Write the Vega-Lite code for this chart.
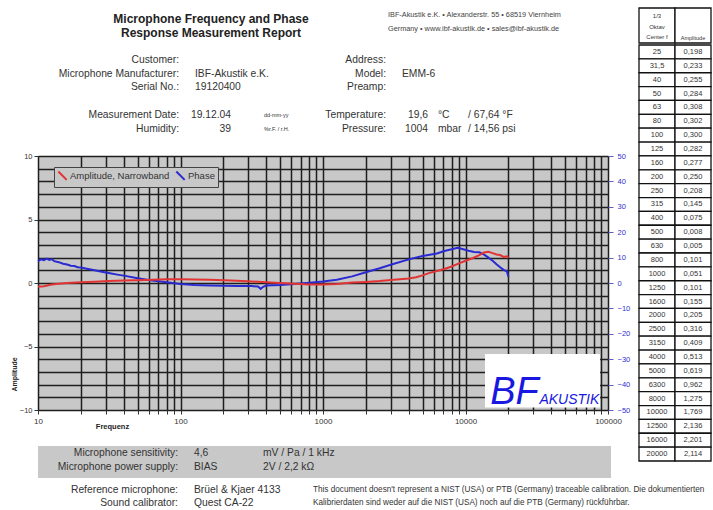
{
  "$schema": "https://vega.github.io/schema/vega-lite/v6.json",
  "padding": {"left": 10, "top": 7, "right": 0, "bottom": 0},
  "background": "white",
  "config": {
    "font": "Liberation Sans",
    "view": {"stroke": null},
    "text": {"color": "#333", "font": "Liberation Sans"},
    "axis": {"labelFont": "Liberation Sans", "titleFont": "Liberation Sans"}
  },
  "datasets": {
    "titleLines": [
      {"line": "t1", "text": "Microphone Frequency and Phase"},
      {"line": "t2", "text": "Response Measurement Report"}
    ],
    "address": [
      {"line": "t1", "text": "IBF-Akustik e.K. • Alexanderstr. 55 • 68519 Viernheim"},
      {"line": "t2", "text": "Germany • www.ibf-akustik.de • sales@ibf-akustik.de"}
    ],
    "header": [
      {"side": "L", "line": "r1", "label": "Customer:", "value": "", "num": "", "unit": "", "conv": ""},
      {"side": "L", "line": "r2", "label": "Microphone Manufacturer:", "value": "IBF-Akustik e.K.", "num": "", "unit": "", "conv": ""},
      {"side": "L", "line": "r3", "label": "Serial No.:", "value": "19120400", "num": "", "unit": "", "conv": ""},
      {"side": "L", "line": "r4", "label": "Measurement Date:", "value": "", "num": "19.12.04", "unit": "dd-mm-yy", "conv": ""},
      {"side": "L", "line": "r5", "label": "Humidity:", "value": "", "num": "39", "unit": "%r.F. / r.H.", "conv": ""},
      {"side": "R", "line": "r1", "label": "Address:", "value": "", "num": "", "unit": "", "conv": ""},
      {"side": "R", "line": "r2", "label": "Model:", "value": "EMM-6", "num": "", "unit": "", "conv": ""},
      {"side": "R", "line": "r3", "label": "Preamp:", "value": "", "num": "", "unit": "", "conv": ""},
      {"side": "R", "line": "r4", "label": "Temperature:", "value": "", "num": "19,6", "unit": "°C", "conv": "/  67,64 °F"},
      {"side": "R", "line": "r5", "label": "Pressure:", "value": "", "num": "1004", "unit": "mbar", "conv": "/  14,56 psi"}
    ],
    "amp": [
      {"f": 10, "v": -0.3}, {"f": 11, "v": -0.25}, {"f": 12.5, "v": -0.12}, {"f": 14, "v": -0.05},
      {"f": 16, "v": 0.0}, {"f": 20, "v": 0.05}, {"f": 25, "v": 0.1}, {"f": 31.5, "v": 0.15},
      {"f": 40, "v": 0.2}, {"f": 50, "v": 0.22}, {"f": 63, "v": 0.26}, {"f": 80, "v": 0.3},
      {"f": 100, "v": 0.3}, {"f": 125, "v": 0.28}, {"f": 160, "v": 0.26}, {"f": 200, "v": 0.22},
      {"f": 250, "v": 0.18}, {"f": 315, "v": 0.12}, {"f": 400, "v": 0.06}, {"f": 500, "v": 0.0},
      {"f": 630, "v": -0.06}, {"f": 800, "v": -0.12}, {"f": 1000, "v": -0.12}, {"f": 1250, "v": -0.07},
      {"f": 1600, "v": 0.03}, {"f": 2000, "v": 0.08}, {"f": 2500, "v": 0.15}, {"f": 3150, "v": 0.25},
      {"f": 4000, "v": 0.35}, {"f": 4500, "v": 0.45}, {"f": 5000, "v": 0.6}, {"f": 5600, "v": 0.8},
      {"f": 6300, "v": 0.95}, {"f": 7100, "v": 1.1}, {"f": 8000, "v": 1.3}, {"f": 9000, "v": 1.55},
      {"f": 10000, "v": 1.75}, {"f": 11200, "v": 1.95}, {"f": 12500, "v": 2.2}, {"f": 13500, "v": 2.4},
      {"f": 14500, "v": 2.45}, {"f": 15500, "v": 2.35}, {"f": 16500, "v": 2.25}, {"f": 17500, "v": 2.2},
      {"f": 18500, "v": 2.05}, {"f": 19500, "v": 2.1}, {"f": 20000, "v": 2.0}
    ],
    "phase": [
      {"f": 10, "v": 8.6}, {"f": 10.5, "v": 9.3}, {"f": 11, "v": 9.0}, {"f": 11.5, "v": 9.6},
      {"f": 12, "v": 9.1}, {"f": 12.5, "v": 9.4}, {"f": 13, "v": 8.6}, {"f": 14, "v": 8.2},
      {"f": 15, "v": 7.6}, {"f": 16, "v": 7.3}, {"f": 17, "v": 6.8}, {"f": 18, "v": 6.7},
      {"f": 19, "v": 6.2}, {"f": 20, "v": 6.1}, {"f": 22, "v": 5.6}, {"f": 25, "v": 5.0},
      {"f": 28, "v": 4.4}, {"f": 32, "v": 3.8}, {"f": 36, "v": 3.3}, {"f": 40, "v": 2.9},
      {"f": 50, "v": 1.9}, {"f": 63, "v": 1.0}, {"f": 80, "v": 0.3}, {"f": 100, "v": -0.4},
      {"f": 125, "v": -0.8}, {"f": 160, "v": -1.0}, {"f": 200, "v": -1.1}, {"f": 250, "v": -1.2},
      {"f": 315, "v": -1.2}, {"f": 350, "v": -1.4}, {"f": 365, "v": -2.3}, {"f": 380, "v": -1.5},
      {"f": 400, "v": -1.0}, {"f": 500, "v": -0.8}, {"f": 630, "v": -0.4}, {"f": 800, "v": 0.1},
      {"f": 1000, "v": 0.6}, {"f": 1250, "v": 1.3}, {"f": 1600, "v": 2.6}, {"f": 2000, "v": 4.2},
      {"f": 2500, "v": 5.8}, {"f": 3150, "v": 7.6}, {"f": 4000, "v": 9.3}, {"f": 5000, "v": 10.6},
      {"f": 6300, "v": 11.6}, {"f": 7100, "v": 12.6}, {"f": 8000, "v": 13.3}, {"f": 8800, "v": 13.9},
      {"f": 9500, "v": 13.4}, {"f": 10500, "v": 12.7}, {"f": 11500, "v": 12.2}, {"f": 12500, "v": 12.1},
      {"f": 13500, "v": 11.2}, {"f": 14500, "v": 10.0}, {"f": 15500, "v": 8.8}, {"f": 16500, "v": 7.4},
      {"f": 17500, "v": 6.2}, {"f": 18500, "v": 5.2}, {"f": 19500, "v": 4.6}, {"f": 20000, "v": 2.5}
    ],
    "logo": [
      {"word": "BF"},
      {"word": "AKUSTIK"}
    ],
    "bandRows": [
      {"line": "sens", "label": "Microphone sensitivity:", "value": "4,6", "unit": "mV / Pa / 1 kHz"},
      {"line": "power", "label": "Microphone  power supply:", "value": "BIAS", "unit": "2V / 2,2 kΩ"}
    ],
    "lowerRows": [
      {"line": "ref", "label": "Reference microphone:", "value": "Brüel & Kjaer 4133"},
      {"line": "cal", "label": "Sound calibrator:", "value": "Quest CA-22"}
    ],
    "disclaimer": [
      {"line": "ref", "text": "This document doesn't represent a NIST (USA) or PTB (Germany) traceable calibration. Die dokumentierten"},
      {"line": "cal", "text": "Kalibrierdaten sind weder auf die NIST (USA) noch auf die PTB (Germany) rückführbar."}
    ],
    "tableHead": [
      {"col": "f", "label": "1/3\nOktav\nCenter f"},
      {"col": "amp", "label": "Amplitude"}
    ],
    "table": [
      {"f": "25", "a": "0,198"}, {"f": "31,5", "a": "0,233"}, {"f": "40", "a": "0,255"},
      {"f": "50", "a": "0,284"}, {"f": "63", "a": "0,308"}, {"f": "80", "a": "0,302"},
      {"f": "100", "a": "0,300"}, {"f": "125", "a": "0,282"}, {"f": "160", "a": "0,277"},
      {"f": "200", "a": "0,250"}, {"f": "250", "a": "0,208"}, {"f": "315", "a": "0,145"},
      {"f": "400", "a": "0,075"}, {"f": "500", "a": "0,008"}, {"f": "630", "a": "0,005"},
      {"f": "800", "a": "0,101"}, {"f": "1000", "a": "0,051"}, {"f": "1250", "a": "0,101"},
      {"f": "1600", "a": "0,155"}, {"f": "2000", "a": "0,205"}, {"f": "2500", "a": "0,316"},
      {"f": "3150", "a": "0,409"}, {"f": "4000", "a": "0,513"}, {"f": "5000", "a": "0,619"},
      {"f": "6300", "a": "0,962"}, {"f": "8000", "a": "1,275"}, {"f": "10000", "a": "1,769"},
      {"f": "12500", "a": "2,136"}, {"f": "16000", "a": "2,201"}, {"f": "20000", "a": "2,114"}
    ]
  },
  "spacing": 6,
  "vconcat": [
    {
      "spacing": 2,
      "hconcat": [
        {
          "spacing": 16,
          "vconcat": [
            {
              "width": 598,
              "height": 126,
              "encoding": {
                "y": {"field": "line", "type": "ordinal", "axis": null,
                      "scale": {"type": "point", "domain": ["t1", "t2", "rule", "r1", "r2", "r3", "g", "r4", "r5"], "range": [10, 121], "padding": 0}}
              },
              "layer": [
                {
                  "data": {"name": "titleLines"},
                  "mark": {"type": "text", "align": "center", "fontWeight": "bold", "fontSize": 12, "color": "#222", "dx": 32, "dy": 1},
                  "encoding": {
                    "x": {"datum": "L", "type": "nominal", "axis": null, "scale": {"type": "point", "domain": ["L", "R"], "range": [141, 348], "padding": 0}},
                    "text": {"field": "text"}
                  }
                },
                {
                  "data": {"name": "address"},
                  "mark": {"type": "text", "align": "left", "fontSize": 7.3, "color": "#444", "dx": 2, "dy": -3},
                  "encoding": {
                    "x": {"datum": "R", "type": "nominal"},
                    "text": {"field": "text"}
                  }
                },
                {
                  "mark": {"type": "rule", "color": "#333", "strokeWidth": 2.5},
                  "encoding": {"y": {"datum": "rule", "type": "ordinal"}}
                },
                {
                  "data": {"name": "header"},
                  "layer": [
                    {"mark": {"type": "text", "align": "right", "fontSize": 10.3},
                     "encoding": {"x": {"field": "side", "type": "nominal"}, "text": {"field": "label"}}},
                    {"mark": {"type": "text", "align": "left", "fontSize": 10.3, "dx": 16},
                     "encoding": {"x": {"field": "side", "type": "nominal"}, "text": {"field": "value"}}},
                    {"transform": [{"filter": "datum.side === 'L'"}],
                     "layer": [
                       {"mark": {"type": "text", "align": "right", "fontSize": 10.3, "dx": 52},
                        "encoding": {"x": {"field": "side", "type": "nominal"}, "text": {"field": "num"}}},
                       {"mark": {"type": "text", "align": "left", "fontSize": 5.5, "dx": 85},
                        "encoding": {"x": {"field": "side", "type": "nominal"}, "text": {"field": "unit"}}}
                     ]},
                    {"transform": [{"filter": "datum.side === 'R'"}],
                     "layer": [
                       {"mark": {"type": "text", "align": "right", "fontSize": 10.3, "dx": 42},
                        "encoding": {"x": {"field": "side", "type": "nominal"}, "text": {"field": "num"}}},
                       {"mark": {"type": "text", "align": "left", "fontSize": 10.3, "dx": 52},
                        "encoding": {"x": {"field": "side", "type": "nominal"}, "text": {"field": "unit"}}},
                       {"mark": {"type": "text", "align": "left", "fontSize": 10.3, "dx": 82},
                        "encoding": {"x": {"field": "side", "type": "nominal"}, "text": {"field": "conv"}}}
                     ]}
                  ]
                }
              ]
            },
            {
              "width": 570,
              "height": 254,
              "view": {"fill": "#c8c8c8", "stroke": "#555"},
              "resolve": {"scale": {"y": "independent"}, "axis": {"y": "independent"}},
              "layer": [
                {
                  "data": {"name": "phase"},
                  "mark": {"type": "line", "strokeWidth": 2},
                  "encoding": {
                    "x": {
                      "field": "f", "type": "quantitative",
                      "scale": {"type": "log", "domain": [10, 100000], "nice": false},
                      "axis": {
                        "values": [10, 20, 30, 40, 50, 60, 70, 80, 90, 100, 200, 300, 400, 500, 600, 700, 800, 900, 1000, 2000, 3000, 4000, 5000, 6000, 7000, 8000, 9000, 10000, 20000, 30000, 40000, 50000, 60000, 70000, 80000, 90000, 100000],
                        "tickCount": 100,
                        "labelExpr": "indexof([10, 100, 1000, 10000, 100000], datum.value) >= 0 ? datum.label : ''",
                        "format": "d",
                        "labelOverlap": false, "labelFlush": false, "labelBound": false,
                        "labelFontSize": 8, "labelColor": "#333", "labelPadding": 3,
                        "grid": true, "gridColor": "#1e1e1e", "gridWidth": 1.5, "gridOpacity": 1,
                        "domain": false, "tickColor": "#333", "tickSize": 4, "tickWidth": 1,
                        "title": "Frequenz", "titleFontSize": 7.5, "titleFontWeight": "bold", "titleColor": "#222",
                        "titleX": 74, "titleY": 16, "titleAlign": "center", "titleBaseline": "middle", "titleAnchor": null
                      }
                    },
                    "y": {
                      "field": "v", "type": "quantitative",
                      "scale": {"domain": [-50, 50], "nice": false, "zero": false},
                      "axis": {
                        "orient": "right", "values": [-50, -40, -30, -20, -10, 0, 10, 20, 30, 40, 50], "tickCount": 100, "format": "d",
                        "grid": false, "domain": false, "labelColor": "#3030d0", "labelFontSize": 7.5,
                        "tickColor": "#6060c0", "tickSize": 5, "labelPadding": 4, "title": null
                      }
                    },
                    "color": {
                      "datum": "Phase", "type": "nominal",
                      "scale": {"domain": ["Amplitude, Narrowband", "Phase"], "range": ["#e23434", "#2a2ad2"]},
                      "legend": {
                        "orient": "none", "legendX": 16, "legendY": 159, "direction": "horizontal",
                        "title": null, "fillColor": "#c8c8c8", "strokeColor": "#444", "padding": 3,
                        "labelFontSize": 9.5, "labelColor": "#333", "labelOffset": 2, "columnPadding": 2,
                        "symbolType": "M-1,-1L1,1", "symbolStrokeWidth": 2, "symbolSize": 70
                      }
                    }
                  }
                },
                {
                  "layer": [
                    {
                      "data": {"name": "amp"},
                      "mark": {"type": "line", "strokeWidth": 2},
                      "encoding": {
                        "x": {"field": "f", "type": "quantitative"},
                        "y": {
                          "field": "v", "type": "quantitative",
                          "scale": {"domain": [-10, 10], "nice": false, "zero": false},
                          "axis": {
                            "orient": "left",
                            "values": [-10, -9, -8, -7, -6, -5, -4, -3, -2, -1, 0, 1, 2, 3, 4, 5, 6, 7, 8, 9, 10],
                            "tickCount": 100, "format": "d",
                            "labelExpr": "datum.value % 5 === 0 ? datum.label : ''",
                            "labelOverlap": false, "labelFontSize": 7.5, "labelColor": "#333", "labelPadding": 2,
                            "grid": true, "gridColor": "#1e1e1e", "gridWidth": 1.5, "gridOpacity": 1,
                            "domain": false, "tickColor": "#333", "tickSize": 4,
                            "tickOpacity": {"condition": {"test": "datum.value % 5 === 0", "value": 1}, "value": 0},
                            "title": "Amplitude", "titleFontSize": 7, "titleFontWeight": "bold", "titleColor": "#222",
                            "titleX": -23.5, "titleY": 218, "titleAlign": "center", "titleBaseline": "middle", "titleAngle": -90, "titleAnchor": null
                          }
                        },
                        "color": {"datum": "Amplitude, Narrowband", "type": "nominal"}
                      }
                    },
                    {
                      "data": {"name": "logo"},
                      "transform": [{"filter": "datum.word === 'BF'"}],
                      "mark": {"type": "rect", "fill": "white"},
                      "encoding": {
                        "x": {"datum": 13700, "type": "quantitative"},
                        "x2": {"datum": 88000},
                        "y": {"datum": -5.6, "type": "quantitative"},
                        "y2": {"datum": -9.8}
                      }
                    },
                    {
                      "data": {"name": "logo"},
                      "transform": [{"filter": "datum.word === 'BF'"}],
                      "mark": {"type": "text", "align": "left", "baseline": "alphabetic", "fontSize": 38, "fontStyle": "italic", "font": "Liberation Sans", "color": "#1818e0"},
                      "encoding": {
                        "x": {"datum": 14900, "type": "quantitative"},
                        "y": {"datum": -9.5, "type": "quantitative"},
                        "text": {"field": "word"}
                      }
                    },
                    {
                      "data": {"name": "logo"},
                      "transform": [{"filter": "datum.word === 'AKUSTIK'"}],
                      "mark": {"type": "text", "align": "left", "baseline": "alphabetic", "fontSize": 14, "fontStyle": "italic", "font": "Liberation Sans", "color": "#1818e0"},
                      "encoding": {
                        "x": {"datum": 33000, "type": "quantitative"},
                        "y": {"datum": -9.5, "type": "quantitative"},
                        "text": {"field": "word"}
                      }
                    }
                  ]
                }
              ]
            },
            {
              "width": 573,
              "height": 32,
              "view": {"fill": "#c8c8c8"},
              "data": {"name": "bandRows"},
              "encoding": {
                "x": {"datum": "L", "type": "nominal", "axis": null, "scale": {"type": "point", "domain": ["L", "D"], "range": [140, 275], "padding": 0}},
                "y": {"field": "line", "type": "ordinal", "axis": null, "scale": {"type": "point", "domain": ["sens", "power"], "range": [7, 21], "padding": 0}}
              },
              "layer": [
                {"mark": {"type": "text", "align": "right", "fontSize": 10.3}, "encoding": {"text": {"field": "label"}}},
                {"mark": {"type": "text", "align": "left", "fontSize": 10.3, "dx": 16}, "encoding": {"text": {"field": "value"}}},
                {"mark": {"type": "text", "align": "left", "fontSize": 10.3, "dx": 85}, "encoding": {"text": {"field": "unit"}}}
              ]
            }
          ]
        },
        {
          "spacing": 0,
          "vconcat": [
            {
              "width": 72,
              "height": 35,
              "data": {"name": "tableHead"},
              "encoding": {
                "x": {"field": "col", "type": "nominal", "axis": null, "scale": {"type": "band", "domain": ["f", "amp"], "paddingInner": 0, "paddingOuter": 0}}
              },
              "layer": [
                {"mark": {"type": "rect", "fill": "white", "stroke": "#111", "strokeWidth": 1.3}},
                {"transform": [{"filter": "datum.col === 'f'"}],
                 "mark": {"type": "text", "fontSize": 6, "lineBreak": "\n", "lineHeight": 10.5, "dy": -9.5},
                 "encoding": {"text": {"field": "label"}}},
                {"transform": [{"filter": "datum.col === 'amp'"}],
                 "mark": {"type": "text", "fontSize": 5.5, "dy": 12.5},
                 "encoding": {"text": {"field": "label"}}}
              ]
            },
            {
              "width": 72,
              "height": 416,
              "data": {"name": "table"},
              "encoding": {
                "y": {"field": "f", "type": "ordinal", "sort": null, "axis": null, "scale": {"type": "band", "paddingInner": 0, "paddingOuter": 0}}
              },
              "layer": [
                {"mark": {"type": "rect", "fill": "white", "stroke": "#111", "strokeWidth": 1.3},
                 "encoding": {"x": {"datum": "f", "type": "nominal", "axis": null, "scale": {"type": "band", "domain": ["f", "amp"], "paddingInner": 0, "paddingOuter": 0}}}},
                {"mark": {"type": "rect", "fill": "white", "stroke": "#111", "strokeWidth": 1.3},
                 "encoding": {"x": {"datum": "amp", "type": "nominal"}}},
                {"mark": {"type": "text", "fontSize": 7.5},
                 "encoding": {"x": {"datum": "f", "type": "nominal"}, "text": {"field": "f"}}},
                {"mark": {"type": "text", "fontSize": 7.5},
                 "encoding": {"x": {"datum": "amp", "type": "nominal"}, "text": {"field": "a"}}}
              ]
            }
          ]
        }
      ]
    },
    {
      "width": 600,
      "height": 25,
      "encoding": {
        "x": {"datum": "L", "type": "nominal", "axis": null, "scale": {"type": "point", "domain": ["L", "D"], "range": [140, 275], "padding": 0}},
        "y": {"field": "line", "type": "ordinal", "axis": null, "scale": {"type": "point", "domain": ["ref", "cal"], "range": [6, 19], "padding": 0}}
      },
      "layer": [
        {"data": {"name": "lowerRows"}, "mark": {"type": "text", "align": "right", "fontSize": 10.3}, "encoding": {"text": {"field": "label"}}},
        {"data": {"name": "lowerRows"}, "mark": {"type": "text", "align": "left", "fontSize": 10.3, "dx": 16}, "encoding": {"text": {"field": "value"}}},
        {
          "data": {"name": "disclaimer"},
          "mark": {"type": "text", "align": "left", "fontSize": 8.2},
          "encoding": {
            "x": {"datum": "D", "type": "nominal"},
            "text": {"field": "text"}
          }
        }
      ]
    }
  ]
}
